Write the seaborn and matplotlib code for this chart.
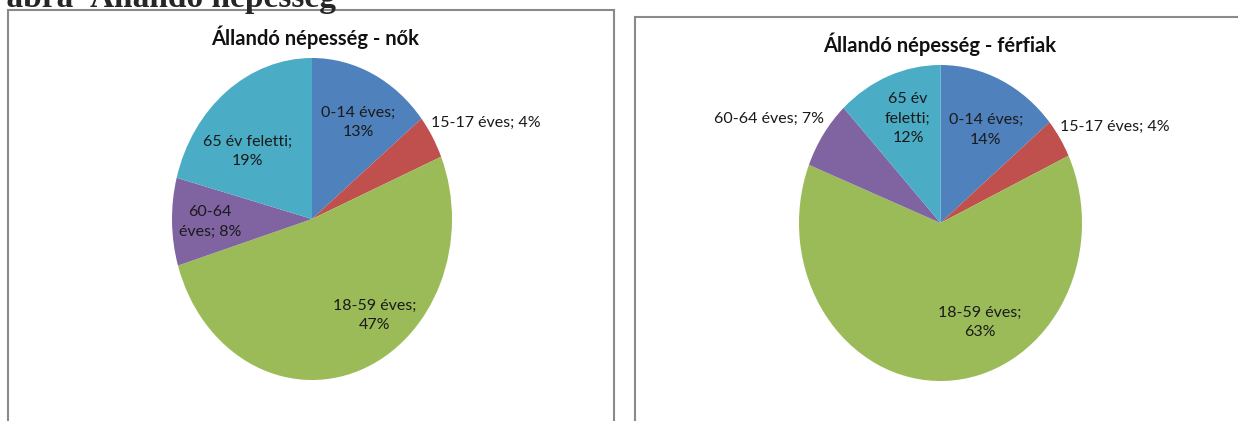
import matplotlib
matplotlib.use("Agg")
import matplotlib.pyplot as plt
from matplotlib import font_manager
from matplotlib.patches import Rectangle
import seaborn as sns

# age groups and shares (%) as printed on the charts
categories = ["0-14 éves", "15-17 éves", "18-59 éves", "60-64 éves", "65 év feletti"]
nok = [13, 4, 47, 8, 19]
ferfiak = [14, 4, 63, 7, 12]

title_nok = "Állandó népesség - nők"
title_ferfiak = "Állandó népesség - férfiak"
header = "1. ábra  Állandó népesség"

colors = ["#4F81BD", "#C0504D", "#9BBB59", "#8064A2", "#4BACC6"]

sns.set_theme(style="white")
names = {f.name for f in font_manager.fontManager.ttflist}
fam = "Liberation Sans Narrow" if "Liberation Sans Narrow" in names else "Lato"
plt.rcParams["font.family"] = [fam, "DejaVu Sans"]

W, H = 1238, 421
fig = plt.figure(figsize=(W / 100, H / 100), dpi=100)


def box(x0, y0, x1, y1):
    # pixel box (top-left origin) -> figure fraction rectangle
    fig.patches.append(Rectangle((x0 / W, 1 - y1 / H), (x1 - x0) / W, (y1 - y0) / H,
                                 transform=fig.transFigure, fill=False,
                                 edgecolor="#8a8a8a", lw=1.5))


def pie_axes(x0, y0, x1, y1):
    return fig.add_axes([x0 / W, 1 - y1 / H, (x1 - x0) / W, (y1 - y0) / H])


box(8, 10, 614, 440)
box(635, 17, 1260, 440)

# page caption above the charts, cut off at the top like in the scan
fig.text(-27 / W, 1 - 7 / H, header, family="Liberation Serif", weight="bold",
         fontsize=24, va="baseline", ha="left")

# label text for each slice, line breaks as in the original
lab_nok = ["0-14 éves;\n13%", "15-17 éves; 4%", "18-59 éves;\n47%",
           "60-64\néves; 8%", "65 év feletti;\n19%"]
pos_nok = [(0.33, 0.60), (1.24, 0.60), (0.45, -0.60), (-0.73, -0.02), (-0.46, 0.42)]
lab_ffi = ["0-14 éves;\n14%", "15-17 éves; 4%", "18-59 éves;\n63%",
           "60-64 éves; 7%", "65 év\nfeletti;\n12%"]
pos_ffi = [(0.32, 0.59), (1.23, 0.61), (0.28, -0.63), (-1.21, 0.66), (-0.23, 0.66)]

panels = [
    (pie_axes(172, 58, 452, 380), nok, lab_nok, pos_nok, title_nok, 315, 37),
    (pie_axes(799, 65, 1082, 381), ferfiak, lab_ffi, pos_ffi, title_ferfiak, 940, 44),
]

for ax, vals, labs, pos, title, tx, ty in panels:
    ax.pie(vals, colors=colors, startangle=90, counterclock=False, radius=1,
           wedgeprops=dict(linewidth=0))
    ax.set_aspect("auto")
    ax.set_xlim(-1, 1)
    ax.set_ylim(-1, 1)
    ax.axis("off")
    for t, (px, py) in zip(labs, pos):
        ax.text(px, py, t, ha="center", va="center", multialignment="center",
                fontsize=11.5, color="#1a1a1a", linespacing=1.5)
    fig.text(tx / W, 1 - ty / H, title, ha="center", va="center",
             fontsize=14.5, weight="bold", color="#111111")

fig.savefig("out.png", dpi=100)
